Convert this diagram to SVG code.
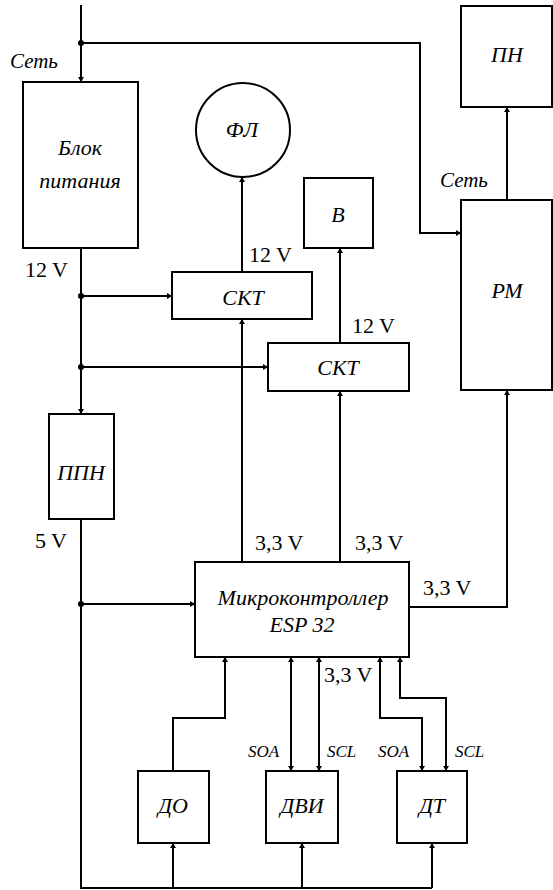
<svg xmlns="http://www.w3.org/2000/svg" width="553" height="890" viewBox="0 0 553 890">
<defs>
<marker id="ar" viewBox="0 0 5 6" refX="5" refY="3" markerWidth="5" markerHeight="6" markerUnits="userSpaceOnUse" orient="auto-start-reverse">
<path d="M0,0 L5,3 L0,6 z" fill="#000"/>
</marker>
<style>
.b{fill:#fff;stroke:#000;stroke-width:2}
.w{fill:none;stroke:#000;stroke-width:2}
.a{fill:none;stroke:#000;stroke-width:2;marker-end:url(#ar)}
.d{fill:none;stroke:#000;stroke-width:2;marker-start:url(#ar);marker-end:url(#ar)}
.t{font-style:italic;font-size:22px;text-anchor:middle}
.v{font-size:22px}
.s{font-style:italic;font-size:17px}
.l{font-style:italic;font-size:21px}
</style>
</defs>
<g id="connectors">
<path class="a" d="M81,5 V82"/>
<path class="a" d="M81,43 H420 V233 H461"/>
<path class="a" d="M81,248 V414"/>
<path class="a" d="M81,296 H172"/>
<path class="a" d="M81,367 H268"/>
<path class="w" d="M81,519 V888 H432"/>
<path class="a" d="M81,604 H195"/>
<path class="a" d="M242,272 V177"/>
<path class="a" d="M340,343 V248"/>
<path class="a" d="M507,200 V107"/>
<path class="a" d="M242,562 V319"/>
<path class="a" d="M340,562 V391"/>
<path class="a" d="M409,607 H507 V390"/>
<path class="a" d="M173,771 V718 H225 V657"/>
<path class="a" d="M173,888 V843"/>
<path class="a" d="M302,888 V843"/>
<path class="a" d="M432,888 V843"/>
<path class="d" d="M291,657 V771"/>
<path class="d" d="M319,657 V771"/>
<path class="d" d="M380,657 V718 H422 V771"/>
<path class="d" d="M400,657 V698 H446 V771"/>
<circle cx="81" cy="43" r="3" fill="#000"/>
<circle cx="81" cy="296" r="3" fill="#000"/>
<circle cx="81" cy="367" r="3" fill="#000"/>
<circle cx="81" cy="604" r="3" fill="#000"/>
</g>
<g font-family="Liberation Serif, Times New Roman, serif" fill="#000">
<g id="labels">
<text class="l" x="10" y="68">Сеть</text>
<text class="l" x="440" y="187">Сеть</text>
<text class="v" x="25" y="277">12 V</text>
<text class="v" x="249" y="262">12 V</text>
<text class="v" x="352" y="333">12 V</text>
<text class="v" x="35" y="548">5 V</text>
<text class="v" x="255" y="550">3,3 V</text>
<text class="v" x="355" y="550">3,3 V</text>
<text class="v" x="423" y="595">3,3 V</text>
<text class="v" x="324" y="682">3,3 V</text>
<text class="s" x="248" y="757">SOA</text>
<text class="s" x="327" y="757">SCL</text>
<text class="s" x="378" y="757">SOA</text>
<text class="s" x="455" y="757">SCL</text>
</g>
<g id="psu"><rect class="b" x="23" y="82" width="115" height="166"/><text class="t" x="80" y="155">Блок</text><text class="t" x="80" y="188">питания</text></g>
<g id="fl"><circle class="b" cx="243" cy="130" r="47"/><text class="t" x="242" y="137">ФЛ</text></g>
<g id="skt1"><rect class="b" x="172" y="272" width="140" height="47"/><text class="t" x="243" y="305">СКТ</text></g>
<g id="v"><rect class="b" x="304" y="178" width="69" height="70"/><text class="t" x="338" y="222">В</text></g>
<g id="skt2"><rect class="b" x="268" y="343" width="141" height="48"/><text class="t" x="338" y="375">СКТ</text></g>
<g id="pn"><rect class="b" x="461" y="6" width="91" height="101"/><text class="t" x="507" y="62">ПН</text></g>
<g id="rm"><rect class="b" x="461" y="200" width="91" height="190"/><text class="t" x="507" y="298">РМ</text></g>
<g id="ppn"><rect class="b" x="49" y="414" width="65" height="105"/><text class="t" x="81" y="480">ППН</text></g>
<g id="mcu"><rect class="b" x="195" y="562" width="214" height="95"/><text class="t" x="303" y="605">Микроконтроллер</text><text class="t" x="302" y="632">ESP 32</text></g>
<g id="do"><rect class="b" x="138" y="771" width="71" height="72"/><text class="t" x="173" y="813">ДО</text></g>
<g id="dvi"><rect class="b" x="266" y="771" width="72" height="72"/><text class="t" x="302" y="813">ДВИ</text></g>
<g id="dt"><rect class="b" x="397" y="771" width="70" height="72"/><text class="t" x="432" y="813">ДТ</text></g>
</g>
</svg>
